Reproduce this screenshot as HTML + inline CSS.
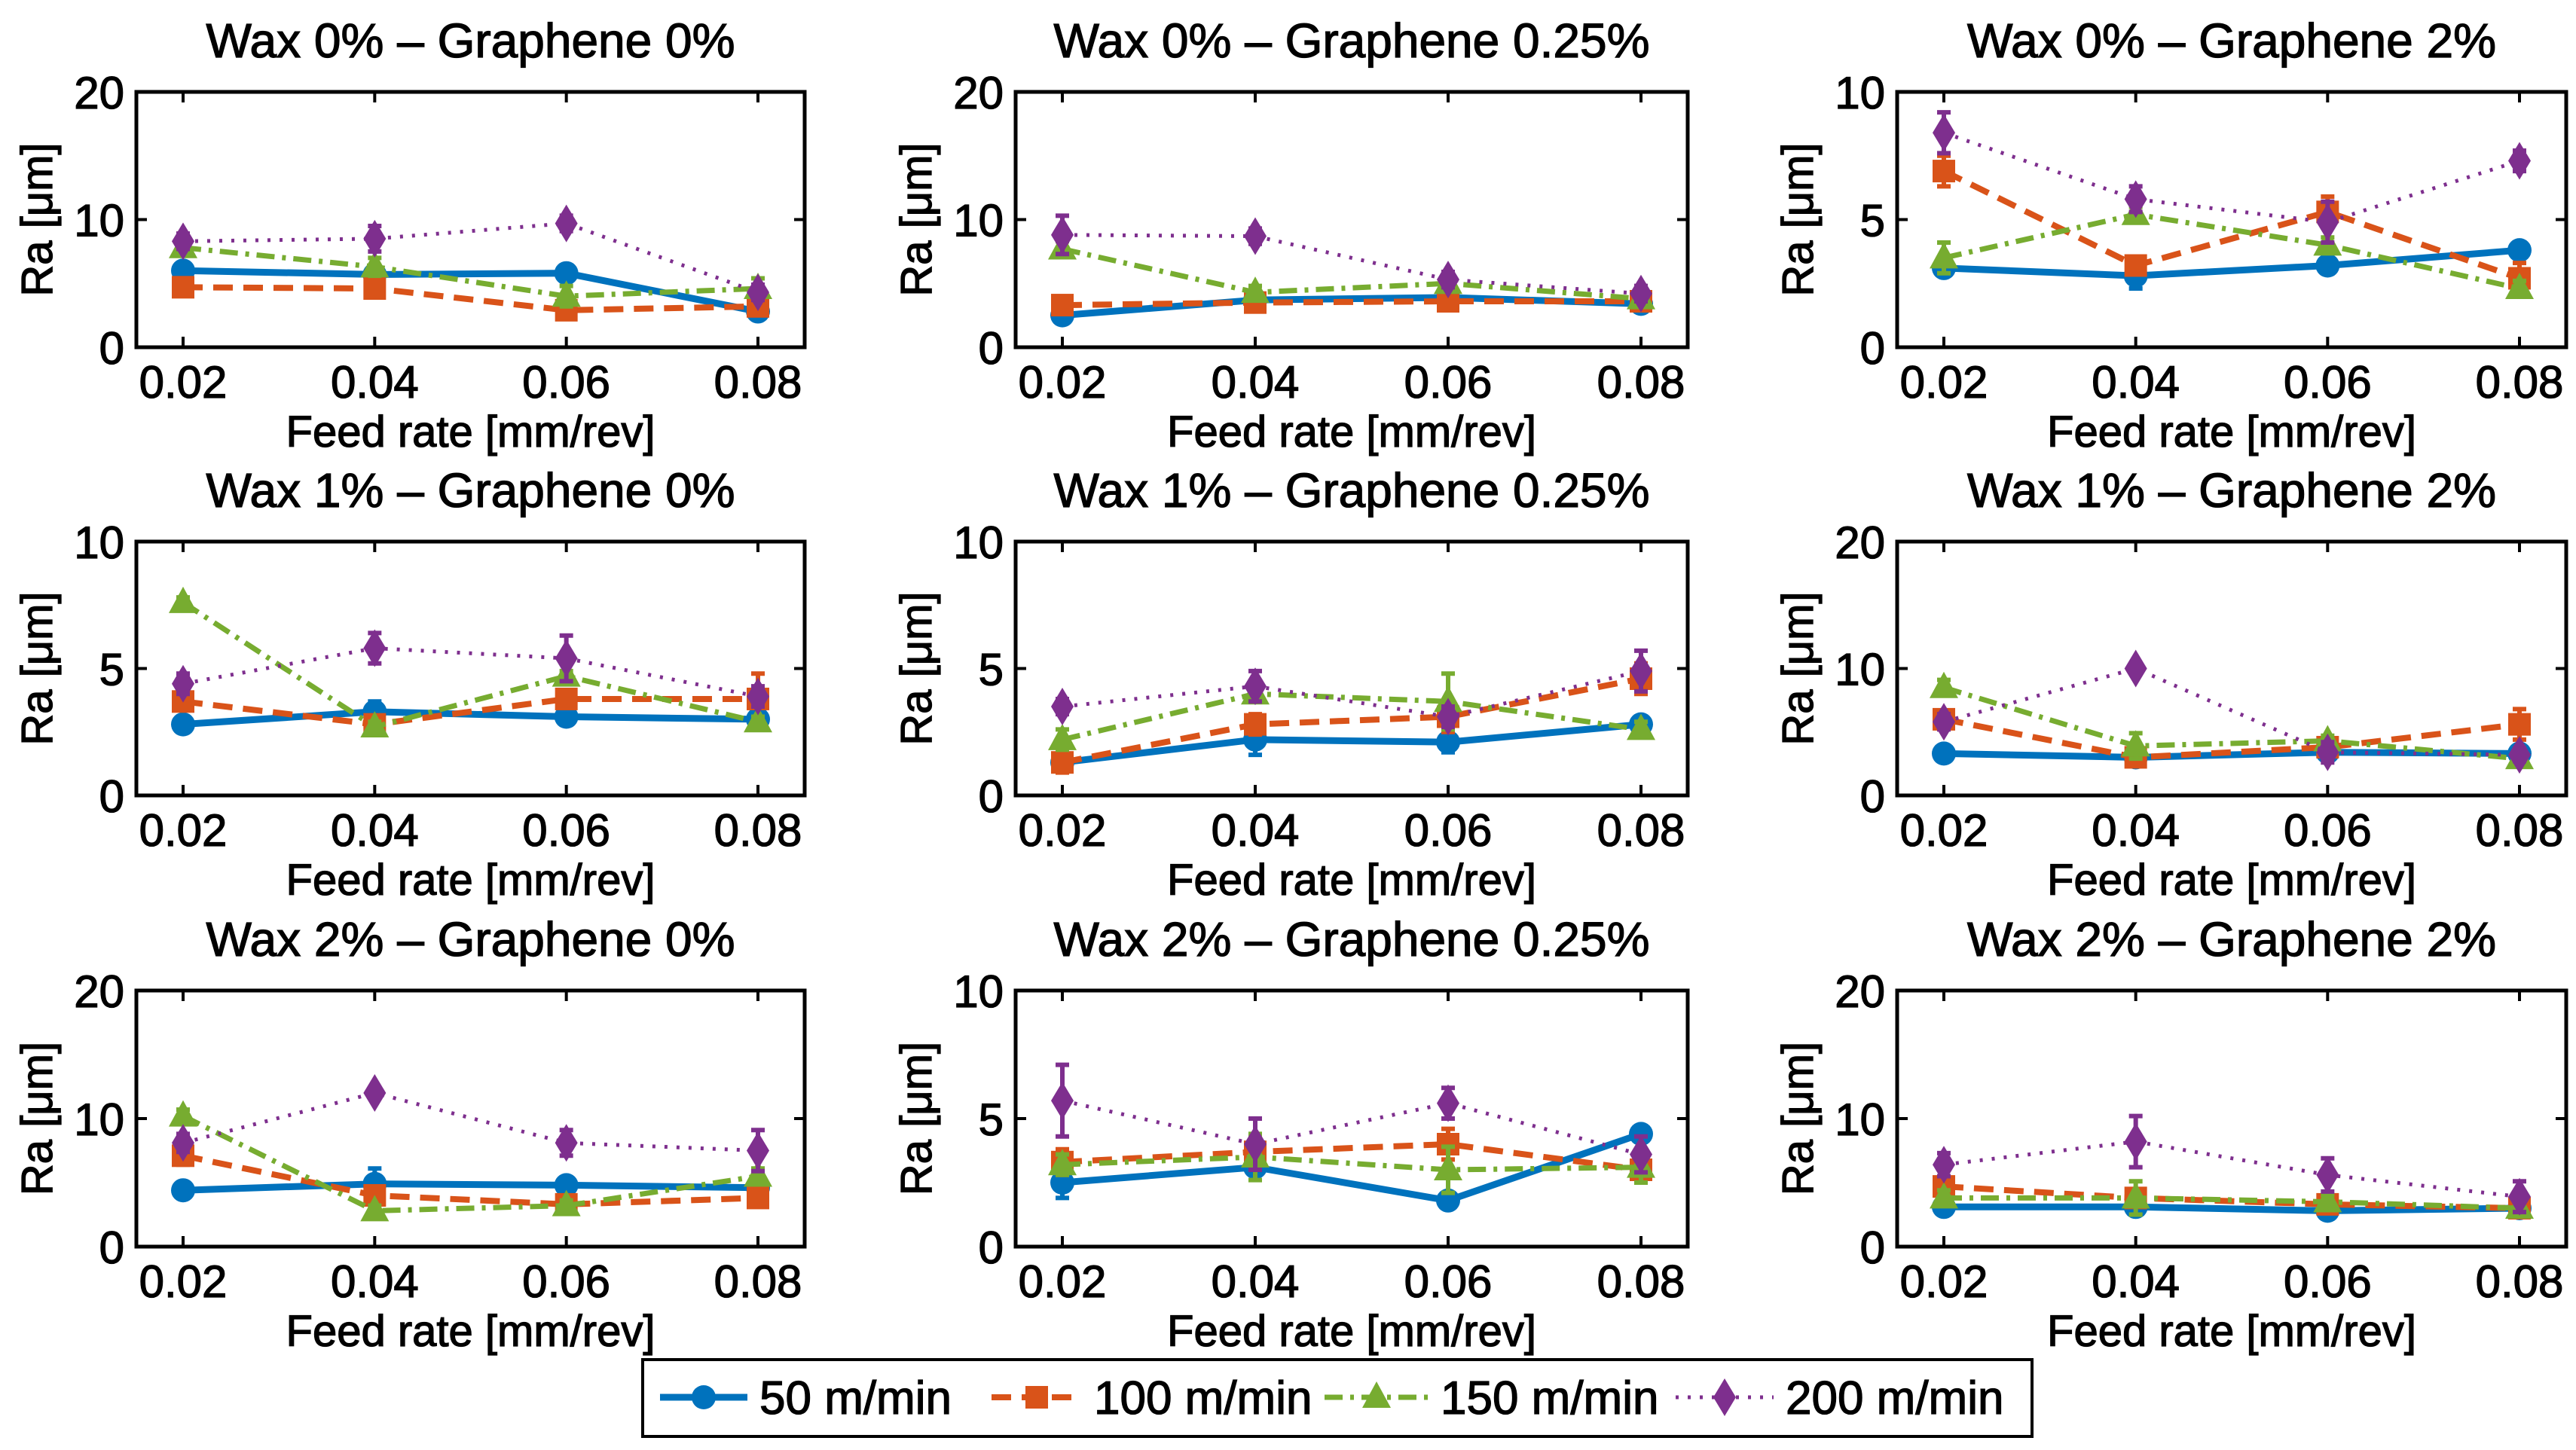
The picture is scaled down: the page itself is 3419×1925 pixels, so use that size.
<!DOCTYPE html>
<html><head><meta charset="utf-8"><style>
html,body{margin:0;padding:0;background:#fff;}
svg{display:block;font-family:"Liberation Sans",sans-serif;}
svg text{stroke:#000;stroke-width:1.3px;}
</style></head><body>
<svg id="fig" width="3419" height="1925" viewBox="0 0 3419 1925" xmlns="http://www.w3.org/2000/svg">
<rect x="0" y="0" width="3419" height="1925" fill="#fff"/>
</svg>
<script>
const feedRates = [0.02, 0.04, 0.06, 0.08];
const xTickLabels = ["0.02", "0.04", "0.06", "0.08"];
const seriesNames = ["50 m/min", "100 m/min", "150 m/min", "200 m/min"];
const panelTitles = ["Wax 0% – Graphene 0%","Wax 0% – Graphene 0.25%","Wax 0% – Graphene 2%",
  "Wax 1% – Graphene 0%","Wax 1% – Graphene 0.25%","Wax 1% – Graphene 2%",
  "Wax 2% – Graphene 0%","Wax 2% – Graphene 0.25%","Wax 2% – Graphene 2%"];
const yMaxes = [20,20,10, 10,10,20, 20,10,20];
// Ra values per panel: [50, 100, 150, 200 m/min] x 4 feed rates
const p1 = [[6.0,5.7,5.8,2.8],[4.7,4.6,2.9,3.2],[7.8,6.3,4.0,4.6],[8.3,8.5,9.7,4.3]];
const p2 = [[2.5,3.7,3.9,3.4],[3.3,3.5,3.6,3.6],[7.7,4.3,5.0,3.8],[8.8,8.7,5.3,4.2]];
const p3 = [[3.1,2.8,3.2,3.8],[6.9,3.2,5.3,2.7],[3.5,5.2,4.0,2.3],[8.4,5.8,4.9,7.3]];
const p4 = [[2.8,3.3,3.1,3.0],[3.7,2.8,3.8,3.8],[7.6,2.7,4.7,2.9],[4.4,5.8,5.4,3.9]];
const p5 = [[1.3,2.2,2.1,2.8],[1.3,2.8,3.1,4.6],[2.2,4.0,3.7,2.6],[3.5,4.3,3.1,4.9]];
const p6 = [[3.3,3.0,3.4,3.3],[6.0,3.0,3.8,5.6],[8.5,3.9,4.3,2.9],[5.8,10.0,3.4,3.2]];
const p7 = [[4.4,4.9,4.8,4.6],[7.1,4.0,3.3,3.8],[10.2,2.8,3.2,5.5],[8.1,12.0,8.1,7.5]];
const p8 = [[2.5,3.1,1.8,4.4],[3.3,3.7,4.0,3.0],[3.2,3.5,3.0,3.1],[5.7,4.0,5.6,3.6]];
const p9 = [[3.1,3.1,2.8,3.0],[4.7,3.8,3.3,3.0],[3.8,3.8,3.5,3.0],[6.4,8.2,5.6,3.9]];
// error half-widths
const e1 = [[0.5,0.6,0.5,0.5],[0.6,0.6,0.6,0.5],[0.5,0.7,0.8,0.8],[0.6,1.0,0.6,0.6]];
const e2 = [[0.5,0.5,0.5,0.5],[0.5,0.5,0.5,0.5],[0.6,0.5,0.5,0.5],[1.5,0.6,0.6,0.6]];
const e3 = [[0.2,0.5,0.3,0.3],[0.6,0.3,0.6,0.6],[0.6,0.3,0.3,0.3],[0.8,0.5,0.8,0.4]];
const e4 = [[0.2,0.4,0.3,0.4],[0.3,0.2,0.3,1.0],[0.2,0.2,0.2,0.2],[0.4,0.6,0.9,0.4]];
const e5 = [[0.3,0.6,0.4,0.3],[0.4,0.4,0.6,0.6],[0.4,0.3,1.1,0.3],[0.3,0.6,0.4,0.8]];
const e6 = [[0.4,0.4,0.5,0.4],[0.6,0.4,0.4,1.2],[0.6,1.0,0.4,0.4],[0.6,0.4,0.8,0.5]];
const e7 = [[0.6,1.2,0.6,0.4],[0.7,0.6,0.4,0.4],[0.5,0.4,0.4,0.6],[0.7,0.4,1.0,1.6]];
const e8 = [[0.6,0.3,0.3,0.3],[0.5,0.6,0.6,0.5],[0.4,0.9,0.9,0.6],[1.4,1.0,0.6,0.7]];
const e9 = [[0.6,0.5,0.6,0.4],[0.8,0.6,0.6,0.4],[0.6,1.3,0.5,0.4],[0.9,2.0,1.3,1.2]];
const panelData = [p1,p2,p3,p4,p5,p6,p7,p8,p9];
const panelErr = [e1,e2,e3,e4,e5,e6,e7,e8,e9];

const colors = ["#0072BD","#D95319","#77AC30","#7E2F8E"];
const dashes = ["", "26,14", "24,10,5,10", "4,12"];
const widths = [9,8,7,5];
const colX = [[181,1068],[1348,2240],[2518,3406]];
const rowY = [[122,461],[719,1056],[1315,1655]];
const NS = "http://www.w3.org/2000/svg";
const svg = document.getElementById("fig");
function mk(tag, attrs, parent){
  const el = document.createElementNS(NS, tag);
  for (const k in attrs) el.setAttribute(k, attrs[k]);
  (parent||svg).appendChild(el); return el;
}
function marker(g, s, cx, cy){
  let el;
  if (s===0){ el = mk("circle",{cx:cx,cy:cy,r:16,fill:colors[0]},g); }
  else if (s===1){ el = mk("rect",{x:cx-15,y:cy-15,width:30,height:30,fill:colors[1]},g); }
  else if (s===2){ el = mk("polygon",{points:`${cx},${cy-21} ${cx+19},${cy+14} ${cx-19},${cy+14}`,fill:colors[2]},g); }
  else { el = mk("polygon",{points:`${cx},${cy-25} ${cx+15},${cy} ${cx},${cy+25} ${cx-15},${cy}`,fill:colors[3]},g); }
  
  
}
for (let p=0;p<9;p++){
  const [L,R] = colX[p%3], [T,B] = rowY[Math.floor(p/3)];
  const ymax = yMaxes[p];
  const xs = v => L + 62 + (v-0.02)/0.06*(R-L-124);
  const ys = v => B - v/ymax*(B-T);
  const g = mk("g",{});
  
  
  const t = mk("text",{x:(L+R)/2,y:T-46,"text-anchor":"middle","font-size":64},g);
  t.textContent = panelTitles[p];
  
  
  feedRates.forEach((f,i)=>{
    const x = xs(f);
    const tk = mk("path",{d:`M${x},${B} V${B-14} M${x},${T} V${T+14}`,stroke:"#000","stroke-width":4},g);
    
    
    const tl = mk("text",{x:x,y:B+67,"text-anchor":"middle","font-size":60},g);
    tl.textContent = xTickLabels[i];
    
    
  });
  [0, ymax/2, ymax].forEach(v=>{
    const y = ys(v);
    const tk = mk("path",{d:`M${L},${y} H${L+14} M${R},${y} H${R-14}`,stroke:"#000","stroke-width":4},g);
    
    
    const tl = mk("text",{x:L-16,y:y+22,"text-anchor":"end","font-size":60},g);
    tl.textContent = String(v);
    
    
  });
  const xl = mk("text",{x:(L+R)/2,y:B+132,"text-anchor":"middle","font-size":58},g);
  xl.textContent = "Feed rate [mm/rev]";
  
  
  const yl = mk("text",{x:0,y:0,"text-anchor":"middle","font-size":58,transform:`translate(${L-112},${(T+B)/2}) rotate(-90)`},g);
  yl.textContent = "Ra [μm]";
  
  
  for (let s=0;s<4;s++){
    const vals = panelData[p][s], errs = panelErr[p][s];
    const sg = mk("g",{},g);
    
    
    const pts = vals.map((v,i)=>xs(feedRates[i])+","+ys(v)).join(" ");
    const ln = mk("polyline",{points:pts,fill:"none",stroke:colors[s],"stroke-width":widths[s],"stroke-dasharray":dashes[s]},sg);
    
    
    vals.forEach((v,i)=>{
      const x = xs(feedRates[i]), y1 = ys(v-errs[i]), y2 = ys(v+errs[i]);
      const eb = mk("path",{d:`M${x},${y1} V${y2} M${x-9},${y1} H${x+9} M${x-9},${y2} H${x+9}`,stroke:colors[s],"stroke-width":6,fill:"none"},sg);
      
      
      marker(sg, s, x, ys(v));
    });
  }
  const box = mk("rect",{x:L,y:T,width:R-L,height:B-T,fill:"none",stroke:"#000","stroke-width":5},g);
  
  
}
const lg = mk("g",{});


const lb = mk("rect",{x:853,y:1805,width:1844,height:102,fill:"#fff",stroke:"#000","stroke-width":4},lg);


const legLineX = [876,1316,1758,2224];
const legLineW = [116,120,138,130];
const ly = 1855;
for (let s=0;s<4;s++){
  const eg = mk("g",{},lg);
  
  
  const x0 = legLineX[s], x1 = x0 + legLineW[s];
  mk("line",{x1:x0,y1:ly,x2:x1,y2:ly,stroke:colors[s],"stroke-width":widths[s],"stroke-dasharray":dashes[s]},eg);
  marker(eg, s, (x0+x1)/2, ly);
  const tx = mk("text",{x:x1+16,y:ly+22,"font-size":62},eg);
  tx.textContent = seriesNames[s];
  
  
}
</script>
</body></html>
